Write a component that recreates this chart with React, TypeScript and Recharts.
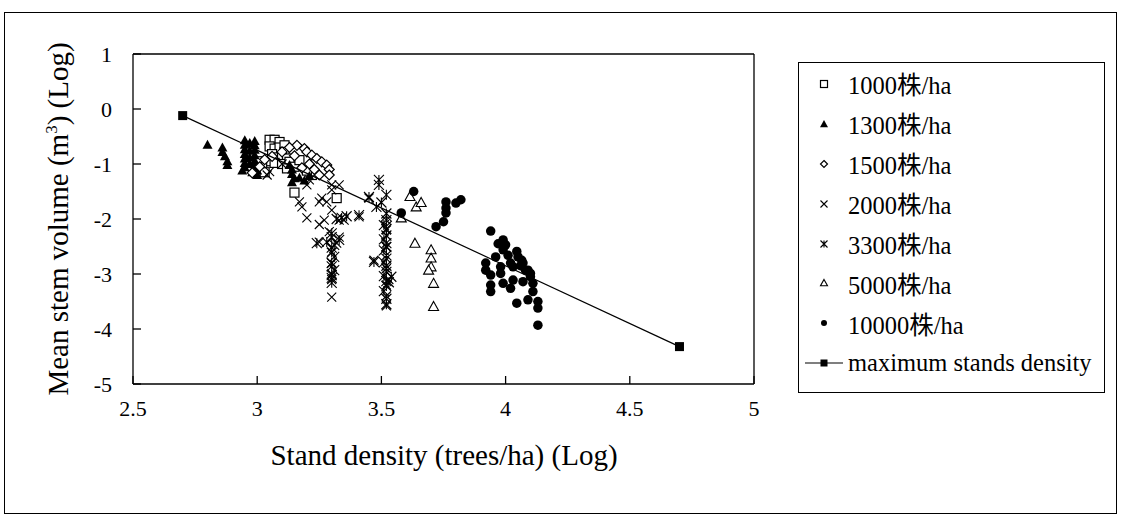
import React from 'react'
import { ScatterChart, Scatter, XAxis, YAxis, ReferenceLine } from 'recharts'

type Pt = { x: number; y: number }

// log stand density vs log mean stem volume
const d1000: Pt[] = [
  { x: 3.05, y: -0.56 }, { x: 3.07, y: -0.56 }, { x: 3.09, y: -0.6 }, { x: 3.05, y: -0.68 },
  { x: 3.07, y: -0.72 }, { x: 3.09, y: -0.7 }, { x: 3.11, y: -0.66 }, { x: 3.11, y: -0.78 },
  { x: 3.06, y: -0.82 }, { x: 3.08, y: -0.88 }, { x: 3.1, y: -0.86 }, { x: 3.12, y: -0.9 },
  { x: 3.04, y: -0.95 }, { x: 3.07, y: -0.98 }, { x: 3.1, y: -1.0 }, { x: 3.13, y: -0.96 },
  { x: 3.02, y: -1.02 }, { x: 3.0, y: -0.95 }, { x: 3.12, y: -1.08 }, { x: 3.15, y: -1.05 },
  { x: 3.03, y: -1.15 }, { x: 3.15, y: -1.52 }, { x: 3.22, y: -1.2 }, { x: 3.32, y: -1.62 },
  { x: 3.2, y: -1.12 }, { x: 3.17, y: -0.93 }
]

const d1300: Pt[] = [
  { x: 2.8, y: -0.65 }, { x: 2.86, y: -0.7 }, { x: 2.86, y: -0.78 }, { x: 2.87, y: -0.86 },
  { x: 2.88, y: -0.95 }, { x: 2.88, y: -1.02 }, { x: 2.95, y: -0.57 }, { x: 2.95, y: -0.65 },
  { x: 2.95, y: -0.73 }, { x: 2.95, y: -0.82 }, { x: 2.95, y: -0.9 }, { x: 2.95, y: -0.98 },
  { x: 2.95, y: -1.06 }, { x: 2.94, y: -1.12 }, { x: 2.97, y: -0.62 }, { x: 2.97, y: -0.76 },
  { x: 2.97, y: -0.88 }, { x: 2.97, y: -1.0 }, { x: 2.99, y: -0.58 }, { x: 2.99, y: -0.66 },
  { x: 2.99, y: -0.74 }, { x: 2.99, y: -0.84 }, { x: 2.99, y: -0.94 }, { x: 2.99, y: -1.04 },
  { x: 3.0, y: -1.12 }, { x: 3.0, y: -1.2 }, { x: 2.98, y: -1.15 }, { x: 3.13, y: -1.02 },
  { x: 3.14, y: -1.1 }, { x: 3.14, y: -1.18 }, { x: 3.15, y: -1.26 }, { x: 3.14, y: -1.33 },
  { x: 3.17, y: -1.25 }, { x: 3.19, y: -1.3 }, { x: 3.21, y: -1.22 }
]

const d1500: Pt[] = [
  { x: 3.16, y: -0.66 }, { x: 3.19, y: -0.72 }, { x: 3.2, y: -0.78 }, { x: 3.22, y: -0.84 },
  { x: 3.24, y: -0.9 }, { x: 3.26, y: -0.96 }, { x: 3.28, y: -1.02 }, { x: 3.29, y: -1.1 },
  { x: 3.29, y: -1.2 }, { x: 3.21, y: -1.0 }, { x: 3.18, y: -1.07 }, { x: 3.23, y: -1.1 },
  { x: 3.15, y: -0.85 }, { x: 3.06, y: -0.86 }, { x: 3.03, y: -0.92 }, { x: 2.98, y: -1.16 },
  { x: 3.01, y: -1.05 }, { x: 3.1, y: -0.78 }, { x: 3.3, y: -2.44 }, { x: 3.52, y: -2.04 },
  { x: 3.13, y: -0.7 }, { x: 3.25, y: -1.2 }
]

const d2000: Pt[] = [
  { x: 3.04, y: -1.2 }, { x: 3.05, y: -1.14 }, { x: 3.1, y: -1.0 }, { x: 3.2, y: -1.38 },
  { x: 3.21, y: -1.29 }, { x: 3.17, y: -1.69 }, { x: 3.18, y: -1.78 }, { x: 3.2, y: -1.98 },
  { x: 3.25, y: -1.69 }, { x: 3.28, y: -1.69 }, { x: 3.26, y: -1.62 }, { x: 3.27, y: -2.02 },
  { x: 3.25, y: -2.1 }, { x: 3.25, y: -2.42 }, { x: 3.29, y: -2.23 }, { x: 3.3, y: -1.38 },
  { x: 3.3, y: -1.47 }, { x: 3.3, y: -1.84 }, { x: 3.33, y: -2.02 }, { x: 3.35, y: -2.02 },
  { x: 3.33, y: -1.38 }, { x: 3.3, y: -3.42 }, { x: 3.32, y: -2.44 }, { x: 3.33, y: -2.33 },
  { x: 3.3, y: -2.6 }, { x: 3.3, y: -2.8 }, { x: 3.3, y: -3.0 }, { x: 3.3, y: -3.1 },
  { x: 3.45, y: -1.62 }, { x: 3.47, y: -2.75 }, { x: 3.52, y: -2.2 }, { x: 3.52, y: -2.5 },
  { x: 3.52, y: -2.9 }, { x: 3.52, y: -3.2 }, { x: 3.52, y: -3.4 }, { x: 3.52, y: -3.58 },
  { x: 3.53, y: -3.1 }, { x: 3.41, y: -1.96 }
]

const d3300: Pt[] = [
  { x: 3.49, y: -1.29 }, { x: 3.49, y: -1.38 }, { x: 3.52, y: -1.56 }, { x: 3.45, y: -1.6 },
  { x: 3.48, y: -1.78 }, { x: 3.5, y: -1.7 }, { x: 3.52, y: -1.9 }, { x: 3.41, y: -1.93 },
  { x: 3.34, y: -1.98 }, { x: 3.32, y: -2.0 }, { x: 3.36, y: -1.95 }, { x: 3.28, y: -2.42 },
  { x: 3.24, y: -2.44 }, { x: 3.33, y: -2.38 }, { x: 3.3, y: -2.26 }, { x: 3.3, y: -2.33 },
  { x: 3.31, y: -2.47 }, { x: 3.3, y: -2.52 }, { x: 3.3, y: -2.61 }, { x: 3.31, y: -2.69 },
  { x: 3.3, y: -2.8 }, { x: 3.3, y: -2.86 }, { x: 3.31, y: -2.93 }, { x: 3.3, y: -3.02 },
  { x: 3.3, y: -3.07 }, { x: 3.3, y: -3.16 }, { x: 3.52, y: -2.02 }, { x: 3.51, y: -2.11 },
  { x: 3.52, y: -2.18 }, { x: 3.52, y: -2.3 }, { x: 3.51, y: -2.37 }, { x: 3.52, y: -2.44 },
  { x: 3.52, y: -2.51 }, { x: 3.51, y: -2.57 }, { x: 3.52, y: -2.66 }, { x: 3.52, y: -2.72 },
  { x: 3.51, y: -2.79 }, { x: 3.52, y: -2.85 }, { x: 3.52, y: -2.96 }, { x: 3.51, y: -3.04 },
  { x: 3.52, y: -3.13 }, { x: 3.52, y: -3.22 }, { x: 3.51, y: -3.31 }, { x: 3.52, y: -3.45 },
  { x: 3.52, y: -3.55 }, { x: 3.47, y: -2.78 }, { x: 3.54, y: -3.05 }, { x: 3.53, y: -3.15 }
]

const d5000: Pt[] = [
  { x: 3.58, y: -1.98 }, { x: 3.615, y: -1.59 }, { x: 3.64, y: -1.78 }, { x: 3.66, y: -1.7 },
  { x: 3.635, y: -2.44 }, { x: 3.7, y: -2.56 }, { x: 3.7, y: -2.71 }, { x: 3.7, y: -2.87 },
  { x: 3.69, y: -2.93 }, { x: 3.71, y: -3.17 }, { x: 3.71, y: -3.59 }
]

const d10000: Pt[] = [
  { x: 3.63, y: -1.5 }, { x: 3.58, y: -1.89 }, { x: 3.76, y: -1.69 }, { x: 3.76, y: -1.8 },
  { x: 3.76, y: -1.89 }, { x: 3.75, y: -2.05 }, { x: 3.72, y: -2.14 }, { x: 3.8, y: -1.71 },
  { x: 3.82, y: -1.65 }, { x: 3.94, y: -2.22 }, { x: 3.99, y: -2.38 }, { x: 4.0, y: -2.47 },
  { x: 3.99, y: -2.56 }, { x: 4.045, y: -2.59 }, { x: 4.05, y: -2.69 }, { x: 4.065, y: -2.75 },
  { x: 4.07, y: -2.8 }, { x: 3.96, y: -2.69 }, { x: 3.92, y: -2.8 }, { x: 3.92, y: -2.93 },
  { x: 3.94, y: -3.02 }, { x: 3.94, y: -3.2 }, { x: 3.94, y: -3.32 }, { x: 3.98, y: -2.87 },
  { x: 3.98, y: -2.99 }, { x: 3.99, y: -3.17 }, { x: 4.03, y: -3.11 }, { x: 4.02, y: -3.26 },
  { x: 4.03, y: -2.87 }, { x: 4.07, y: -3.14 }, { x: 4.09, y: -2.93 }, { x: 4.1, y: -2.99 },
  { x: 4.11, y: -3.17 }, { x: 4.11, y: -3.32 }, { x: 4.09, y: -3.47 }, { x: 4.13, y: -3.5 },
  { x: 4.13, y: -3.62 }, { x: 4.045, y: -3.53 }, { x: 4.13, y: -3.93 }, { x: 4.08, y: -2.93 },
  { x: 4.02, y: -2.8 }, { x: 4.06, y: -2.85 }, { x: 4.1, y: -3.05 }, { x: 3.97, y: -2.45 },
  { x: 4.01, y: -2.66 }
]

const maxDensity: Pt[] = [{ x: 2.7, y: -0.12 }, { x: 4.7, y: -4.32 }]

const xTicks = [2.5, 3, 3.5, 4, 4.5, 5]
const yTicks = [1, 0, -1, -2, -3, -4, -5]

const seriesLabels = [
  '1000株/ha', '1300株/ha', '1500株/ha', '2000株/ha',
  '3300株/ha', '5000株/ha', '10000株/ha', 'maximum stands density'
]

type Kind = 'square' | 'triFill' | 'diamond' | 'cross' | 'star' | 'triOpen' | 'dot' | 'sqFill'

const kinds: Kind[] = ['square', 'triFill', 'diamond', 'cross', 'star', 'triOpen', 'dot', 'sqFill']
const seriesData = [d1000, d1300, d1500, d2000, d3300, d5000, d10000]

const FONT = '"Liberation Serif", "Times New Roman", "Noto Sans CJK TC", serif'

function Marker({ kind, cx, cy, s }: { kind: Kind; cx: number; cy: number; s: number }) {
  const h = s / 2
  switch (kind) {
    case 'square':
      return <rect x={cx - h} y={cy - h} width={s} height={s} fill="#fff" stroke="#000" strokeWidth={1.2} />
    case 'sqFill':
      return <rect x={cx - h} y={cy - h} width={s} height={s} fill="#000" />
    case 'triFill':
      return <polygon points={`${cx},${cy - h} ${cx + h},${cy + h * 0.8} ${cx - h},${cy + h * 0.8}`} fill="#000" />
    case 'triOpen':
      return (
        <polygon
          points={`${cx},${cy - h} ${cx + h},${cy + h * 0.8} ${cx - h},${cy + h * 0.8}`}
          fill="#fff"
          stroke="#000"
          strokeWidth={1.1}
        />
      )
    case 'diamond':
      return (
        <polygon
          points={`${cx},${cy - h} ${cx + h},${cy} ${cx},${cy + h} ${cx - h},${cy}`}
          fill="#fff"
          stroke="#000"
          strokeWidth={1.2}
        />
      )
    case 'cross':
      return <path d={`M${cx - h},${cy - h}L${cx + h},${cy + h}M${cx + h},${cy - h}L${cx - h},${cy + h}`} stroke="#000" strokeWidth={1.1} />
    case 'star':
      return (
        <path
          d={`M${cx - h},${cy - h}L${cx + h},${cy + h}M${cx + h},${cy - h}L${cx - h},${cy + h}M${cx},${cy - h}L${cx},${cy + h}`}
          stroke="#000"
          strokeWidth={1.1}
        />
      )
    case 'dot':
      return <circle cx={cx} cy={cy} r={h} fill="#000" />
  }
  return null
}

const chartSizes: Record<Kind, number> = {
  square: 9, sqFill: 9, triFill: 10, triOpen: 10, diamond: 10, cross: 9, star: 10, dot: 9.5
}
const legendSizes: Record<Kind, number> = {
  square: 7, sqFill: 7, triFill: 8, triOpen: 7, diamond: 7, cross: 7, star: 7, dot: 6
}

export default function App() {
  return (
    <div style={{ position: 'absolute', left: 0, top: 0, width: 1121, height: 525, background: '#fff', fontFamily: FONT }}>
      <div style={{ position: 'absolute', left: 4, top: 12, width: 1111, height: 500, border: '1px solid #000' }} />
      <div style={{ position: 'absolute', left: 0, top: 0 }}>
        <ScatterChart width={1121} height={525} margin={{ top: 54, right: 367, bottom: 41, left: 0 }}>
          <XAxis
            type="number"
            dataKey="x"
            domain={[2.5, 5]}
            ticks={xTicks}
            height={100}
            tickSize={-8}
            tickMargin={24}
            stroke="#000"
            strokeWidth={1.3}
            tick={{ fill: '#000', fontSize: 22, fontFamily: FONT }}
            allowDataOverflow
          />
          <YAxis
            type="number"
            dataKey="y"
            domain={[-5, 1]}
            ticks={yTicks}
            width={133}
            tickSize={-8}
            tickMargin={29}
            stroke="#000"
            strokeWidth={1.3}
            tick={{ fill: '#000', fontSize: 22, fontFamily: FONT }}
            allowDataOverflow
          />
          <ReferenceLine y={1} stroke="#000" strokeWidth={1.3} />
          <ReferenceLine x={5} stroke="#000" strokeWidth={1.3} />
          {seriesData.map((data, i) => (
            <Scatter
              key={seriesLabels[i]}
              name={seriesLabels[i]}
              data={data}
              isAnimationActive={false}
              shape={(p: any) => <Marker kind={kinds[i]} cx={p.cx} cy={p.cy} s={chartSizes[kinds[i]]} />}
            />
          ))}
          <Scatter
            name={seriesLabels[7]}
            data={maxDensity}
            isAnimationActive={false}
            line={{ stroke: '#000', strokeWidth: 1.2 }}
            shape={(p: any) => <Marker kind="sqFill" cx={p.cx} cy={p.cy} s={9} />}
          />
        </ScatterChart>
      </div>
      <svg width={1121} height={525} style={{ position: 'absolute', left: 0, top: 0, pointerEvents: 'none' }}>
        <text x={444} y={465} textAnchor="middle" fontSize={29} fontFamily={FONT} fill="#000">
          Stand density (trees/ha) (Log)
        </text>
        <text transform="translate(68,219) rotate(-90)" textAnchor="middle" fontSize={29} fontFamily={FONT} fill="#000">
          Mean stem volume (m<tspan dy={-11} fontSize={17}>3</tspan>
          <tspan dy={11}>) (Log)</tspan>
        </text>
      </svg>
      <div
        style={{
          position: 'absolute',
          left: 798,
          top: 62,
          width: 307,
          height: 331,
          border: '1px solid #000',
          boxSizing: 'border-box',
          paddingTop: 1
        }}
      >
        {seriesLabels.map((label, i) => (
          <div key={label} style={{ height: 39.9, display: 'flex', alignItems: 'center', fontSize: 24.5, color: '#000' }}>
            <svg width={49} height={20} style={{ flex: 'none' }}>
              {kinds[i] === 'sqFill' && <line x1={6} y1={10} x2={44} y2={10} stroke="#000" strokeWidth={1.2} />}
              <Marker kind={kinds[i]} cx={25} cy={10} s={legendSizes[kinds[i]]} />
            </svg>
            <span style={{ whiteSpace: 'nowrap' }}>{label}</span>
          </div>
        ))}
      </div>
    </div>
  )
}
